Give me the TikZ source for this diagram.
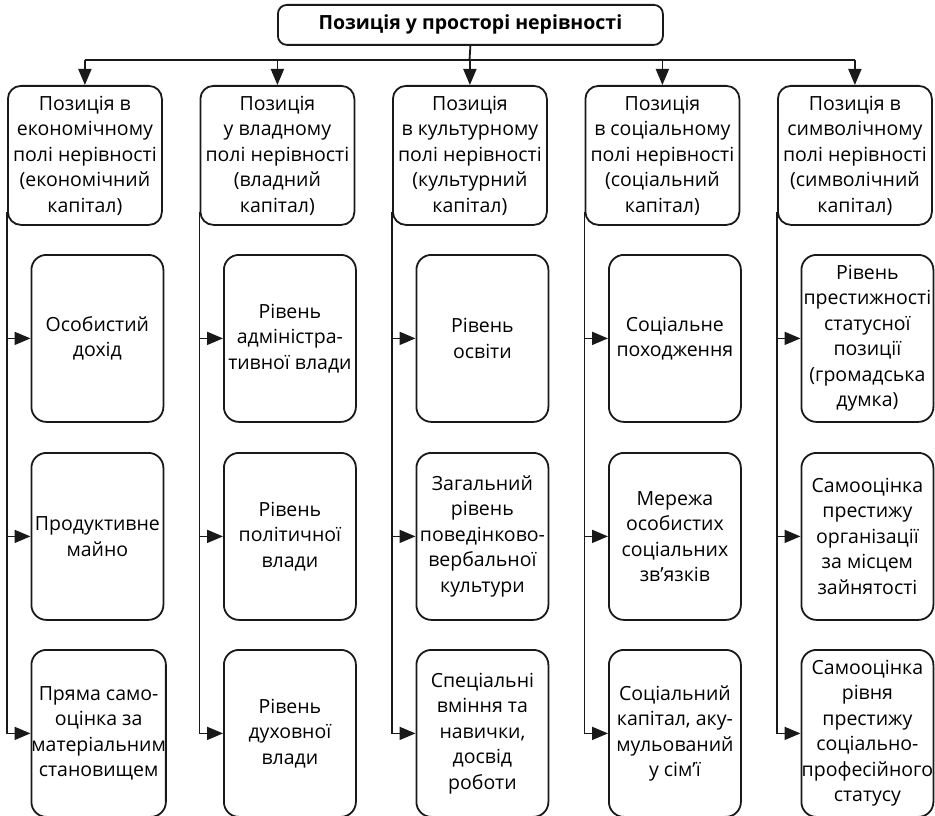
\documentclass[tikz,border=0pt]{standalone}
\usepackage{fontspec}
\setmainfont{Open Sans}
\usetikzlibrary{arrows.meta}
\tikzset{
  base/.style={draw=black!90, line width=1.8pt, align=center, inner sep=0pt, anchor=north west,
     font=\fontsize{19.5}{25.5}\selectfont},
  titlebox/.style={base, rounded corners=9pt, minimum width=385pt, minimum height=40pt,
     font=\fontsize{19.5}{25.5}\selectfont\bfseries},
  headbox/.style={base, rounded corners=13pt, minimum width=154pt, minimum height=139pt},
  itembox/.style={base, rounded corners=15pt, minimum width=132pt, minimum height=167pt},
  conn/.style={line width=1.8pt, draw=black!90},
  arr/.style={conn, -{Triangle[length=16pt,width=13pt]}}
}
\begin{document}
\begin{tikzpicture}[x=1pt,y=-1pt]
\useasboundingbox (0,0) rectangle (935,816);
\node[titlebox] (top) at (277,4) {Позиція у просторі нерівності};

\node[headbox] (h1) at (7,85) {Позиція в\\економічному\\полі нерівності\\(економічний\\капітал)};
\node[headbox] (h2) at (199.5,85) {Позиція\\у владному\\полі нерівності\\(владний\\капітал)};
\node[headbox] (h3) at (392,85) {Позиція\\в культурному\\полі нерівності\\(культурний\\капітал)};
\node[headbox] (h4) at (584.5,85) {Позиція\\в соціальному\\полі нерівності\\(соціальний\\капітал)};
\node[headbox] (h5) at (777,85) {Позиція в\\символічному\\полі нерівності\\(символічний\\капітал)};

\node[itembox] (s11) at (30.5,254) {Особистий\\дохід};
\node[itembox] (s12) at (30.5,452) {Продуктивне\\майно};
\node[itembox] (s13) at (30.5,649) {Пряма само-\\оцінка за\\матеріальним\\становищем};

\node[itembox] (s21) at (223,254) {Рівень\\адміністра-\\тивної влади};
\node[itembox] (s22) at (223,452) {Рівень\\політичної\\влади};
\node[itembox] (s23) at (223,649) {Рівень\\духовної\\влади};

\node[itembox] (s31) at (415.5,254) {Рівень\\освіти};
\node[itembox] (s32) at (415.5,452) {Загальний\\рівень\\поведінково-\\вербальної\\культури};
\node[itembox] (s33) at (415.5,649) {Спеціальні\\вміння та\\навички,\\досвід\\роботи};

\node[itembox] (s41) at (608,254) {Соціальне\\походження};
\node[itembox] (s42) at (608,452) {Мережа\\особистих\\соціальних\\зв'язків};
\node[itembox] (s43) at (608,649) {Соціальний\\капітал, аку-\\мульований\\у сім'ї};

\node[itembox] (s51) at (800.5,254) {Рівень\\престижності\\статусної\\позиції\\(громадська\\думка)};
\node[itembox] (s52) at (800.5,452) {Самооцінка\\престижу\\організації\\за місцем\\зайнятості};
\node[itembox] (s53) at (800.5,649) {Самооцінка\\рівня\\престижу\\соціально-\\професійного\\статусу};

\coordinate (bus) at (469.5,60);
\draw[conn] (top.south) -- (bus);
\draw[conn] (h1.north |- bus) -- (h5.north |- bus);
\foreach \i in {1,...,5}{
  \draw[arr] (h\i.north |- bus) -- (h\i.north);
  \coordinate (v\i) at ([yshift=14pt]h\i.south west);
  \draw[arr] (v\i) |- (s\i3.west);
  \draw[arr] (v\i |- s\i1.west) -- (s\i1.west);
  \draw[arr] (v\i |- s\i2.west) -- (s\i2.west);
}
\end{tikzpicture}
\end{document}
